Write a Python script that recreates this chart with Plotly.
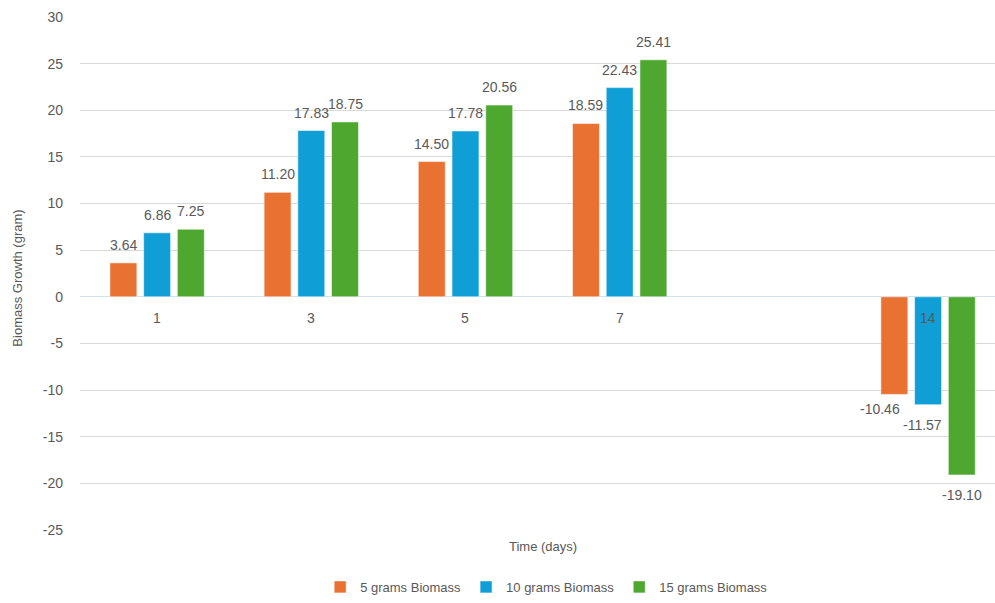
import plotly.graph_objects as go

# Sampling days (one empty slot between day 7 and day 14)
days = ["1", "3", "5", "7", "", "14"]

series_names = ["5 grams Biomass", "10 grams Biomass", "15 grams Biomass"]
biomass_5g = [3.64, 11.20, 14.50, 18.59, None, -10.46]
biomass_10g = [6.86, 17.83, 17.78, 22.43, None, -11.57]
biomass_15g = [7.25, 18.75, 20.56, 25.41, None, -19.10]

# Value-axis ticks
y_ticks = [-25, -20, -15, -10, -5, 0, 5, 10, 15, 20, 25, 30]
y_tick_labels = [str(t) for t in y_ticks]

colors = ["#E97132", "#0F9ED5", "#4EA72E"]
text_color = "#595959"
font_family = "Liberation Sans, Arial, sans-serif"

# Small pixel nudges for labels that would otherwise collide
label_nudge = {(0, 5): (-14, 5), (1, 5): (-6, 0)}

BARGAP = 0.344
slots = list(range(len(days)))
all_series = [biomass_5g, biomass_10g, biomass_15g]
pitch = (1 - BARGAP) / len(all_series)

fig = go.Figure()
for name, vals, col in zip(series_names, all_series, colors):
    fig.add_trace(go.Bar(
        x=slots, y=vals, name=name,
        marker=dict(color=col, line=dict(color="rgba(255,255,255,0.7)", width=0.8)),
        hoverinfo="skip",
    ))

annotations = []
# Value labels above / below each bar
for i, vals in enumerate(all_series):
    offset = (i - (len(all_series) - 1) / 2) * pitch
    for j, v in enumerate(vals):
        if v is None:
            continue
        dx, dy = label_nudge.get((i, j), (0, 0))
        annotations.append(dict(
            x=slots[j] + offset, y=v, xref="x", yref="y",
            text=f"{v:.2f}", showarrow=False,
            yanchor="middle", xanchor="center",
            yshift=(18 if v >= 0 else -20) + dy, xshift=dx,
            font=dict(size=14, color=text_color, family=font_family),
        ))

# Category labels sitting just under the zero line
for s, d in zip(slots, days):
    if d:
        annotations.append(dict(
            x=s, y=0, xref="x", yref="y", text=d, showarrow=False,
            yanchor="middle", yshift=-21,
            font=dict(size=14, color=text_color, family=font_family),
        ))

# Axis titles
annotations.append(dict(
    x=(slots[0] + slots[-1]) / 2, y=0, xref="x", yref="paper",
    text="Time (days)", showarrow=False, yanchor="middle", yshift=-16,
    font=dict(size=13, color=text_color, family=font_family),
))
annotations.append(dict(
    x=0, y=0.49, xref="paper", yref="paper", xshift=-62,
    text="Biomass Growth (gram)", showarrow=False, textangle=-90,
    xanchor="center", yanchor="middle",
    font=dict(size=13, color=text_color, family=font_family),
))

fig.update_layout(
    width=995, height=603,
    margin=dict(l=80, r=0, t=17, b=73),
    paper_bgcolor="white", plot_bgcolor="white",
    barmode="group", bargap=BARGAP, bargroupgap=0.2,
    font=dict(family=font_family, color=text_color),
    annotations=annotations,
    showlegend=True,
    legend=dict(
        orientation="h", x=0.51, xanchor="center", y=-0.111, yanchor="middle",
        font=dict(size=13, color=text_color, family=font_family),
        itemclick=False, itemdoubleclick=False,
    ),
    xaxis=dict(
        range=[-0.5, 5.434], showticklabels=False, showgrid=False,
        zeroline=False, showline=False, fixedrange=True,
    ),
    yaxis=dict(
        range=[-25, 30], tickmode="array",
        tickvals=y_ticks, ticktext=y_tick_labels,
        showgrid=True, gridcolor="#d9d9d9", gridwidth=1,
        zeroline=True, zerolinecolor="#d5e0ef", zerolinewidth=1,
        showline=False, ticks="", ticklabelstandoff=16,
        tickfont=dict(size=14, color=text_color, family=font_family),
        fixedrange=True,
    ),
)

fig.write_html("out.html", config={"displayModeBar": False})
